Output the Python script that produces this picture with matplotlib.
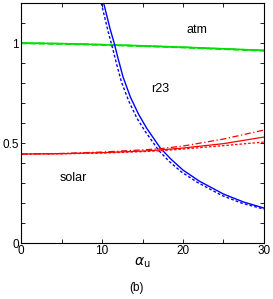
import numpy as np
import matplotlib
matplotlib.use("Agg")
import matplotlib.pyplot as plt
from matplotlib.ticker import MultipleLocator

plt.rcParams['font.family'] = ['Liberation Sans', 'DejaVu Sans']

# data
alpha_green = [0, 5, 10, 15, 20, 25, 30]
atm_a = [1.0, 0.997, 0.992, 0.986, 0.979, 0.971, 0.963]
atm_b = [0.998, 0.995, 0.990, 0.984, 0.977, 0.969, 0.961]

alpha_blue = [10.2, 11.0, 11.5, 12.0, 12.6, 13.5, 14.5, 15.5, 17.2, 18.5, 20, 22, 25, 27.5, 30]
r23_solid = [1.2, 1.07, 1.0, 0.92, 0.83, 0.73, 0.645, 0.575, 0.475, 0.42, 0.365, 0.31, 0.245, 0.205, 0.175]
r23_dash = [1.2, 1.05, 0.975, 0.895, 0.805, 0.71, 0.625, 0.56, 0.463, 0.408, 0.356, 0.303, 0.238, 0.199, 0.17]
alpha_blue_dash = [9.9, 10.8, 11.3, 11.8, 12.4, 13.3, 14.3, 15.3, 17.0, 18.3, 19.8, 21.8, 24.8, 27.3, 30]

alpha_red = [0, 5, 10, 15, 17, 20, 25, 30]
sol_solid = [0.445, 0.447, 0.452, 0.46, 0.465, 0.475, 0.497, 0.53]
sol_dash = [0.445, 0.448, 0.455, 0.466, 0.471, 0.485, 0.52, 0.565]
sol_dot = [0.445, 0.446, 0.45, 0.457, 0.461, 0.47, 0.487, 0.505]

fig = plt.figure(figsize=(2.73, 2.99), dpi=100)
ax = fig.add_axes([0.077, 0.187, 0.89, 0.803])

ax.plot(alpha_green, atm_a, color="#00e000", lw=1.2, ls="-")
ax.plot(alpha_green, atm_b, color="#00e000", lw=1.2, ls="--")
ax.plot(alpha_green, atm_a, color="#00e000", lw=1.0, ls="-.")

ax.plot(alpha_blue, r23_solid, color="#0000ff", lw=1.0, ls="-")
ax.plot(alpha_blue_dash, r23_dash, color="#0000ff", lw=1.0, ls=(0, (2, 1.5)))

ax.plot(alpha_red, sol_solid, color="#ff0000", lw=0.9, ls="-")
ax.plot(alpha_red, sol_dash, color="#ff0000", lw=0.9, ls=(0, (5, 2, 1, 2)))
ax.plot(alpha_red, sol_dot, color="#ff0000", lw=0.9, ls=(0, (2, 1.5)))

ax.text(21.7, 1.065, "atm", ha="center", va="center", fontsize=9)
ax.text(17.2, 0.77, "r23", ha="center", va="center", fontsize=9)
ax.text(6.5, 0.325, "solar", ha="center", va="center", fontsize=9)

ax.set_xlim(0, 30)
ax.set_ylim(0, 1.2)
ax.set_xticks([0, 10, 20, 30])
ax.set_xticklabels(["0", "10", "20", "30"])
ax.set_yticks([0, 0.5, 1])
ax.set_yticklabels(["0", "0.5", "1"])
ax.xaxis.set_minor_locator(MultipleLocator(5))
ax.yaxis.set_minor_locator(MultipleLocator(0.1))
ax.tick_params(which="both", direction="in", top=True, right=True, labelsize=8.5, pad=1.5)
ax.tick_params(which="major", length=3, width=0.6)
ax.tick_params(which="minor", length=3, width=0.6)
for s in ax.spines.values():
    s.set_linewidth(0.8)

ax.set_xlabel(r"$\alpha_{\rm u}$", fontsize=10, labelpad=-1)
fig.text(0.5, 0.037, "(b)", ha="center", va="center", fontsize=8.5)

fig.savefig("out.png", dpi=100)
